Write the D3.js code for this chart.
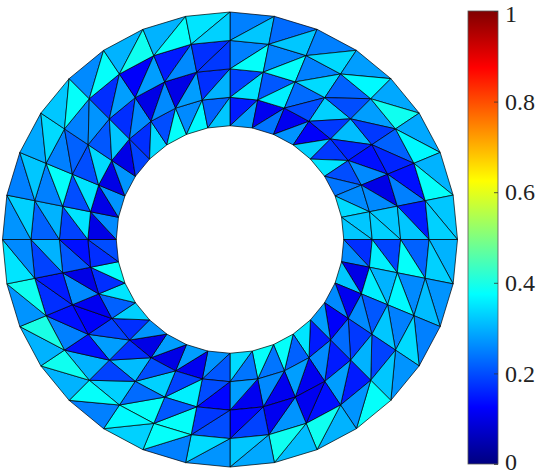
<!DOCTYPE html>
<html><head><meta charset="utf-8">
<script src="https://cdn.jsdelivr.net/npm/d3@7/dist/d3.min.js"></script>
<style>body{margin:0;background:#fff}</style>
</head><body>
<svg id="chart" width="540" height="475"></svg>
<script>
// Mesh: annulus, 5 rings of nodes, 32 sectors; each quad split into
// an outer-edge triangle and an inner-edge triangle (pairs per sector).
const ringRadii = [0.5, 0.625, 0.75, 0.875, 1.0];
const sectorCount = 32;
const layer0 = [.15,.28,.11,.24,.11,.27,.12,.33,.18,.35,.20,.24,.26,.34,.32,.32,
                .17,.26,.10,.32,.11,.26,.12,.28,.15,.35,.22,.38,.24,.38,.24,.34,
                .21,.27,.11,.28,.10,.28,.10,.27,.17,.33,.22,.35,.17,.38,.17,.20,
                .10,.26,.10,.27,.10,.27,.10,.19,.17,.34,.20,.38,.26,.37,.22,.32];
const layer1 = [.19,.35,.21,.36,.23,.20,.33,.18,.31,.16,.14,.26,.10,.26,.32,.33,
                .19,.36,.30,.36,.21,.26,.18,.23,.15,.26,.11,.28,.11,.26,.11,.28,
                .13,.20,.36,.19,.33,.20,.31,.17,.28,.19,.12,.11,.26,.10,.21,.14,
                .19,.35,.20,.35,.20,.34,.21,.32,.17,.26,.10,.26,.10,.28,.17,.30];
const layer2 = [.25,.38,.25,.38,.25,.34,.22,.20,.28,.18,.22,.16,.14,.25,.15,.32,
                .22,.38,.26,.37,.25,.32,.19,.30,.15,.28,.14,.11,.27,.11,.19,.13,
                .20,.18,.38,.21,.38,.23,.33,.19,.30,.14,.25,.14,.17,.15,.19,.30,
                .22,.30,.25,.38,.25,.22,.25,.27,.17,.28,.12,.28,.15,.26,.17,.18];
const layer3 = [.25,.32,.23,.32,.25,.34,.28,.37,.29,.39,.29,.37,.30,.38,.32,.33,
                .30,.33,.27,.31,.25,.34,.27,.32,.38,.27,.30,.39,.31,.39,.29,.32,
                .27,.34,.25,.38,.33,.37,.25,.38,.30,.39,.30,.40,.27,.39,.35,.26,
                .27,.33,.25,.32,.29,.34,.32,.38,.26,.38,.30,.39,.30,.38,.35,.33];
const colorbarTicks = [0, 0.2, 0.4, 0.6, 0.8, 1];
const colorDomain = [0, 1];

const layers = [layer0, layer1, layer2, layer3];
const svg = d3.select("#chart");

const x = d3.scaleLinear().domain([-1, 1]).range([2.5, 457.5]);
const y = d3.scaleLinear().domain([-1, 1]).range([467, 12]);
const angle = d3.scaleLinear().domain([0, sectorCount]).range([0, 2 * Math.PI]);

function jet(v) {
  const c = t => Math.max(0, Math.min(1, t));
  const r = c(1.5 - Math.abs(4 * v - 3));
  const g = c(1.5 - Math.abs(4 * v - 2));
  const b = c(1.5 - Math.abs(4 * v - 1));
  return d3.rgb(r * 255, g * 255, b * 255).formatHex();
}

function node(ring, k) {
  const t = angle(k % sectorCount), r = ringRadii[ring];
  return [x(r * Math.sin(t)), y(r * Math.cos(t))];
}

const tris = [];
layers.forEach((vals, L) => {
  for (let j = 0; j < sectorCount; j++) {
    const A = node(L, j), B = node(L, j + 1), C = node(L + 1, j + 1), D = node(L + 1, j);
    tris.push({pts: [A, C, D], v: vals[2 * j]});
    tris.push({pts: [A, B, C], v: vals[2 * j + 1]});
  }
});

svg.append("g").selectAll("path").data(tris).join("path")
  .attr("d", d => "M" + d.pts.map(p => p.join(",")).join("L") + "Z")
  .attr("fill", d => jet(d.v))
  .attr("stroke", "#000")
  .attr("stroke-width", 0.7)
  .attr("stroke-linejoin", "round");

// Colorbar
const cbX = 468, cbW = 30;
const cb = d3.scaleLinear().domain(colorDomain).range([464, 11]);
const defs = svg.append("defs");
const grad = defs.append("linearGradient").attr("id", "jetgrad")
  .attr("x1", 0).attr("y1", 1).attr("x2", 0).attr("y2", 0);
d3.range(0, 1.0001, 0.0625).forEach(t => {
  grad.append("stop").attr("offset", t).attr("stop-color", jet(t));
});
svg.append("rect").attr("x", cbX).attr("y", cb(1)).attr("width", cbW)
  .attr("height", cb(0) - cb(1)).attr("fill", "url(#jetgrad)")
  .attr("stroke", "#555").attr("stroke-width", 0.8);

const axis = d3.axisRight(cb).tickValues(colorbarTicks)
  .tickSize(-4).tickPadding(7).tickFormat(d => String(d));
const ag = svg.append("g").attr("transform", `translate(${cbX + cbW},0)`).call(axis);
ag.select(".domain").remove();
ag.selectAll(".tick line").attr("stroke", "#333").attr("stroke-width", 0.8);
ag.selectAll(".tick text")
  .attr("font-family", "'Liberation Serif', 'DejaVu Serif', serif")
  .attr("font-size", 24).attr("fill", "#222")
  .attr("dy", d => d === 1 ? "0.44em" : d === 0 ? "0.23em" : "0.32em");
</script>
</body></html>
